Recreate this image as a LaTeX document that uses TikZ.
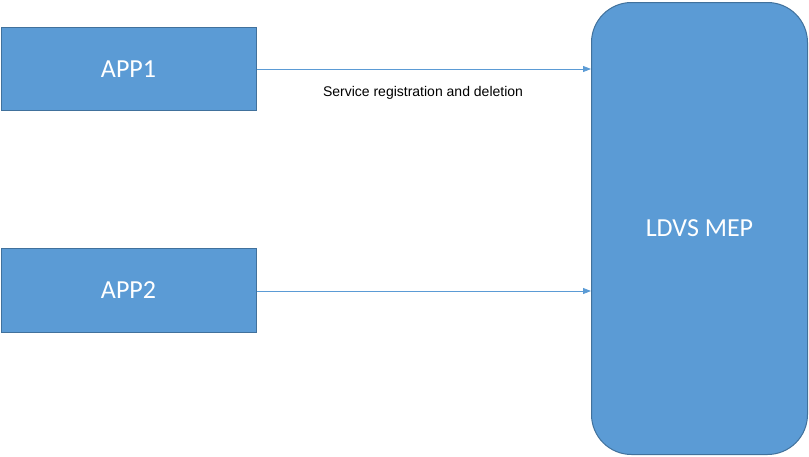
\documentclass[tikz,border=0pt]{standalone}
\usepackage{fontspec}
\setmainfont{Carlito}
\newfontfamily\arialf{Liberation Sans}
\usetikzlibrary{arrows.meta}
\definecolor{boxfill}{HTML}{5B9BD5}
\definecolor{boxline}{HTML}{41719C}
\begin{document}
\begin{tikzpicture}[x=1pt,y=-1pt,
  appbox/.style={draw=boxline,fill=boxfill,line width=1pt,text=white,font=\fontsize{26}{30}\selectfont,anchor=north west,inner sep=0pt},
  conn/.style={draw=boxfill,line width=0.8pt,-{Triangle[length=8pt,width=6pt]}}]
\useasboundingbox (0,0) rectangle (809,456);
\node[appbox,minimum width=255pt,minimum height=83pt] (a1) at (0.5,27) {APP1};
\node[appbox,minimum width=255pt,minimum height=84pt] (a2) at (0.5,248) {APP2};
\node[appbox,rounded corners=40pt,minimum width=216pt,minimum height=452pt] (mep) at (591,2) {LDVS MEP};
\coordinate (t1) at (591,69);
\coordinate (t2) at (591,291);
\draw[conn] (a1.east |- t1) -- (t1);
\draw[conn] (a2.east |- t2) -- (t2);
\node[font=\arialf\fontsize{14}{16}\selectfont] (lbl) at (423,93) {Service registration and deletion};
\end{tikzpicture}
\end{document}
